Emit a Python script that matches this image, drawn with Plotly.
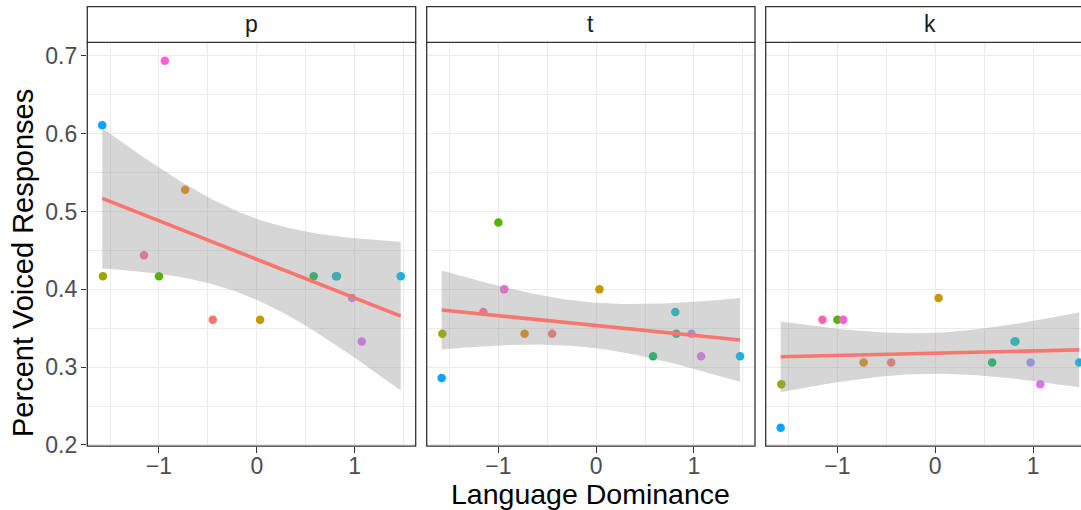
import numpy as np
import plotly.graph_objects as go

# ---- data ----
subjects = ["S01", "S02", "S03", "S04", "S05", "S06", "S07",
            "S08", "S09", "S10", "S11", "S12", "S13", "S14"]
colors = ["#F8766D", "#E38900", "#C49A00", "#99A800", "#53B400", "#00BC56", "#00C094",
          "#00BFC4", "#00B6EB", "#06A4FF", "#A58AFF", "#DF70F8", "#FB61D7", "#FF66A8"]
dominance = [-0.45, -0.732, 0.034, -1.573, -1.0, 0.582, 0.82,
             0.81, 1.472, -1.58, 0.975, 1.074, -0.94, -1.153]
voiced_p = [0.361, 0.528, 0.361, 0.417, 0.417, 0.417, 0.417,
            0.417, 0.417, 0.611, 0.389, 0.333, 0.694, 0.444]
voiced_t = [0.343, 0.343, 0.400, 0.343, 0.486, 0.314, 0.343,
            0.371, 0.314, 0.286, 0.343, 0.314, 0.400, 0.371]
voiced_k = [0.306, 0.306, 0.389, 0.278, 0.361, 0.306, 0.333,
            0.333, 0.306, 0.222, 0.306, 0.278, 0.361, 0.361]
panels = ["p", "t", "k"]
panel_values = [voiced_p, voiced_t, voiced_k]
x_ticks = [-1, 0, 1]
y_ticks = [0.2, 0.3, 0.4, 0.5, 0.6, 0.7]

T_CRIT = 2.178813  # t quantile 0.975, df = 12


def lm_fit(x, y, n_grid=80):
    x = np.asarray(x, float)
    y = np.asarray(y, float)
    n = len(x)
    xm, ym = x.mean(), y.mean()
    sxx = ((x - xm) ** 2).sum()
    b1 = ((x - xm) * (y - ym)).sum() / sxx
    b0 = ym - b1 * xm
    resid = y - (b0 + b1 * x)
    s = np.sqrt((resid ** 2).sum() / (n - 2))
    g = np.linspace(x.min(), x.max(), n_grid)
    fit = b0 + b1 * g
    se = s * np.sqrt(1.0 / n + (g - xm) ** 2 / sxx)
    return g, fit, fit - T_CRIT * se, fit + T_CRIT * se


W, H = 1081, 510
px_x = lambda v: v / W
px_y = lambda v: 1 - v / H

x_domains = [(87.3, 415.7), (426.7, 755.0), (765.7, 1081.0)]
y_dom = (px_y(446.2), px_y(42.3))
strip_top, strip_bot = 6.7, 42.3

fig = go.Figure()
font_family = "Liberation Sans, Arial, Helvetica, sans-serif"

for i, (name, vals) in enumerate(zip(panels, panel_values)):
    sfx = "" if i == 0 else str(i + 1)
    xa, ya = "x" + sfx, "y" + sfx
    fig.add_trace(go.Scatter(
        x=dominance, y=vals, mode="markers", xaxis=xa, yaxis=ya,
        marker=dict(color=colors, size=8.5, line=dict(width=0)),
        text=subjects, showlegend=False, hoverinfo="x+y+text"))
    g, fit, lo, hi = lm_fit(dominance, vals)
    fig.add_trace(go.Scatter(
        x=np.concatenate([g, g[::-1]]), y=np.concatenate([hi, lo[::-1]]),
        mode="lines", fill="toself", fillcolor="rgba(153,153,153,0.4)",
        line=dict(width=0), xaxis=xa, yaxis=ya, showlegend=False, hoverinfo="skip"))
    fig.add_trace(go.Scatter(
        x=g, y=fit, mode="lines", line=dict(color="#F8766D", width=3.6),
        xaxis=xa, yaxis=ya, showlegend=False, hoverinfo="skip"))

axis_common = dict(
    showline=False, zeroline=False, showgrid=True, gridcolor="#EBEBEB", gridwidth=1.3,
    ticks="outside", ticklen=5.5, tickwidth=1.1, tickcolor="#333333", automargin=False,
    tickfont=dict(family=font_family, size=23, color="#4D4D4D"),
)

layout = dict(
    width=W, height=H, autosize=False,
    margin=dict(l=0, r=0, t=0, b=0, pad=0),
    paper_bgcolor="white", plot_bgcolor="white",
    showlegend=False,
    font=dict(family=font_family),
)

x_ranges = [[-1.733, 1.625], [-1.733, 1.625], [-1.733, 1.49]]
for i in range(3):
    sfx = "" if i == 0 else str(i + 1)
    layout["xaxis" + sfx] = dict(
        axis_common, domain=[px_x(x_domains[i][0]), px_x(x_domains[i][1])],
        range=x_ranges[i], anchor="y" + sfx, tickvals=x_ticks, ticklabelstandoff=-6,
        minor=dict(dtick=0.5, tick0=0, showgrid=True, gridcolor="#EBEBEB", gridwidth=0.7, ticks=""),
    )
    ya = dict(
        axis_common, domain=list(y_dom), range=[0.1984, 0.7176], anchor="x" + sfx,
        tickvals=y_ticks, ticktext=[f"{v:.1f}" for v in y_ticks], ticklabelstandoff=-1,
        minor=dict(dtick=0.05, tick0=0, showgrid=True, gridcolor="#EBEBEB", gridwidth=0.7, ticks=""),
    )
    if i > 0:
        ya.update(showticklabels=False, ticks="")
    layout["yaxis" + sfx] = ya

fig.update_layout(**layout)

# panel borders and strips
shapes = []
for i, (x0, x1) in enumerate(x_domains):
    right = px_x(x1) if i < 2 else 1.02
    shapes.append(dict(type="rect", xref="paper", yref="paper",
                       x0=px_x(x0), x1=right, y0=y_dom[0], y1=y_dom[1],
                       line=dict(color="#333333", width=1.3), fillcolor="rgba(0,0,0,0)", layer="above"))
    shapes.append(dict(type="rect", xref="paper", yref="paper",
                       x0=px_x(x0), x1=right, y0=px_y(strip_bot), y1=px_y(strip_top),
                       line=dict(color="#333333", width=1.3), fillcolor="white", layer="above"))

annotations = []
centers = [(87.3 + 415.7) / 2, (426.7 + 755.0) / 2, 765.7 + 328.4 / 2]
for i, c in enumerate(centers):
    annotations.append(dict(text=panels[i], xref="paper", yref="paper",
                            x=px_x(c), y=px_y((strip_top + strip_bot) / 2 - 1),
                            xanchor="center", yanchor="middle", showarrow=False,
                            font=dict(family=font_family, size=23, color="#1A1A1A")))
annotations.append(dict(text="Language Dominance", xref="paper", yref="paper",
                        x=px_x(590.8), y=px_y(494), xanchor="center", yanchor="middle",
                        showarrow=False, font=dict(family=font_family, size=28.5, color="black")))
annotations.append(dict(text="Percent Voiced Responses", xref="paper", yref="paper",
                        x=px_x(23), y=px_y(263), xanchor="center", yanchor="middle",
                        textangle=-90, showarrow=False,
                        font=dict(family=font_family, size=29, color="black")))
fig.update_layout(shapes=shapes, annotations=annotations)

fig.write_html("out.html", config={"displayModeBar": False},
               post_script="document.body.style.margin='0';document.body.style.overflow='hidden';")
